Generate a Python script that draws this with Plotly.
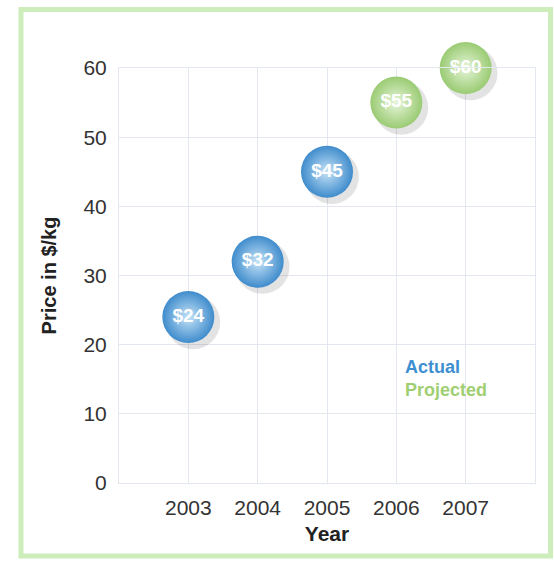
import plotly.graph_objects as go

# ---- data ----
years = [2003, 2004, 2005, 2006, 2007]
prices = [24, 32, 45, 55, 60]
status = ["Actual", "Actual", "Actual", "Projected", "Projected"]
y_ticks = [0, 10, 20, 30, 40, 50, 60]
legend_items = ["Actual", "Projected"]

# ---- styles ----
edge_col = {"Actual": "#3f8ccc", "Projected": "#9acb73"}
center_col = {"Actual": "#c6e3f8", "Projected": "#e6f5d9"}
text_col = {"Actual": "#3d8fd1", "Projected": "#9fcf72"}
grid = "#e3e7ef"
FONT = "Liberation Sans"

labels = [f"${p}" for p in prices]

fig = go.Figure()

# invisible anchor trace on the primary axes (keeps grid/ticks)
fig.add_trace(go.Scatter(
    x=years, y=prices, mode="markers", marker=dict(size=1, opacity=0),
    hoverinfo="skip", showlegend=False))

# shadow (on slightly shifted overlay axes)
fig.add_trace(go.Scatter(
    x=years, y=prices, xaxis="x2", yaxis="y2", mode="markers",
    marker=dict(size=54, color="rgba(0,0,0,0.11)", line=dict(width=0)),
    cliponaxis=False, hoverinfo="skip", showlegend=False))

# bubbles
fig.add_trace(go.Scatter(
    x=years, y=prices, xaxis="x3", yaxis="y3", mode="markers+text",
    text=labels, textposition="middle center",
    textfont=dict(family=FONT, size=19, color="white", weight="bold"),
    marker=dict(size=52,
                color=[edge_col[s] for s in status],
                gradient=dict(type="radial", color=[center_col[s] for s in status]),
                line=dict(width=0)),
    cliponaxis=False, hoverinfo="skip", showlegend=False))

fig.update_layout(
    width=554, height=561,
    margin=dict(l=119, r=19, t=68, b=78),
    paper_bgcolor="white", plot_bgcolor="white",
    font=dict(family=FONT, color="#333333"),
    xaxis=dict(range=[2002, 2008], tickvals=years, ticktext=[str(y) for y in years],
               showgrid=True, gridcolor=grid, gridwidth=1, zeroline=False,
               showline=True, mirror=True, linecolor=grid, linewidth=1,
               ticks="", ticklabelstandoff=6,
               tickfont=dict(size=21, color="#333333"),
               title=dict(text="Year", font=dict(size=21, color="#222222", weight="bold"),
                          standoff=8)),
    yaxis=dict(range=[0, 60], tickvals=y_ticks,
               showgrid=True, gridcolor=grid, gridwidth=1, zeroline=False,
               showline=True, mirror=True, linecolor=grid, linewidth=1,
               ticks="", ticklabelstandoff=7,
               tickfont=dict(size=21, color="#333333"),
               title=dict(text="Price in $/kg", font=dict(size=20, color="#222222", weight="bold"),
                          standoff=21)),
    xaxis2=dict(overlaying="x", anchor="y2", range=[2001.93, 2007.93], visible=False),
    yaxis2=dict(overlaying="y", anchor="x2", range=[0.75, 60.75], visible=False),
    xaxis3=dict(overlaying="x", anchor="y3", range=[2002, 2008], visible=False),
    yaxis3=dict(overlaying="y", anchor="x3", range=[0, 60], visible=False),
    hovermode=False,
)

# legend-like labels
for i, name in enumerate(legend_items):
    fig.add_annotation(xref="paper", yref="paper", x=0.683, y=0.2795 - i * 0.0555,
                       xanchor="left", yanchor="middle", showarrow=False,
                       text=name, font=dict(family=FONT, size=18, color=text_col[name], weight="bold"))

# green frame
fig.add_shape(type="rect", xref="paper", yref="paper",
              x0=-0.2356, x1=1.0373, y0=-0.176, y1=1.141,
              line=dict(color="#cdeebb", width=5), fillcolor="rgba(0,0,0,0)", layer="below")

fig.write_html("out.html")
